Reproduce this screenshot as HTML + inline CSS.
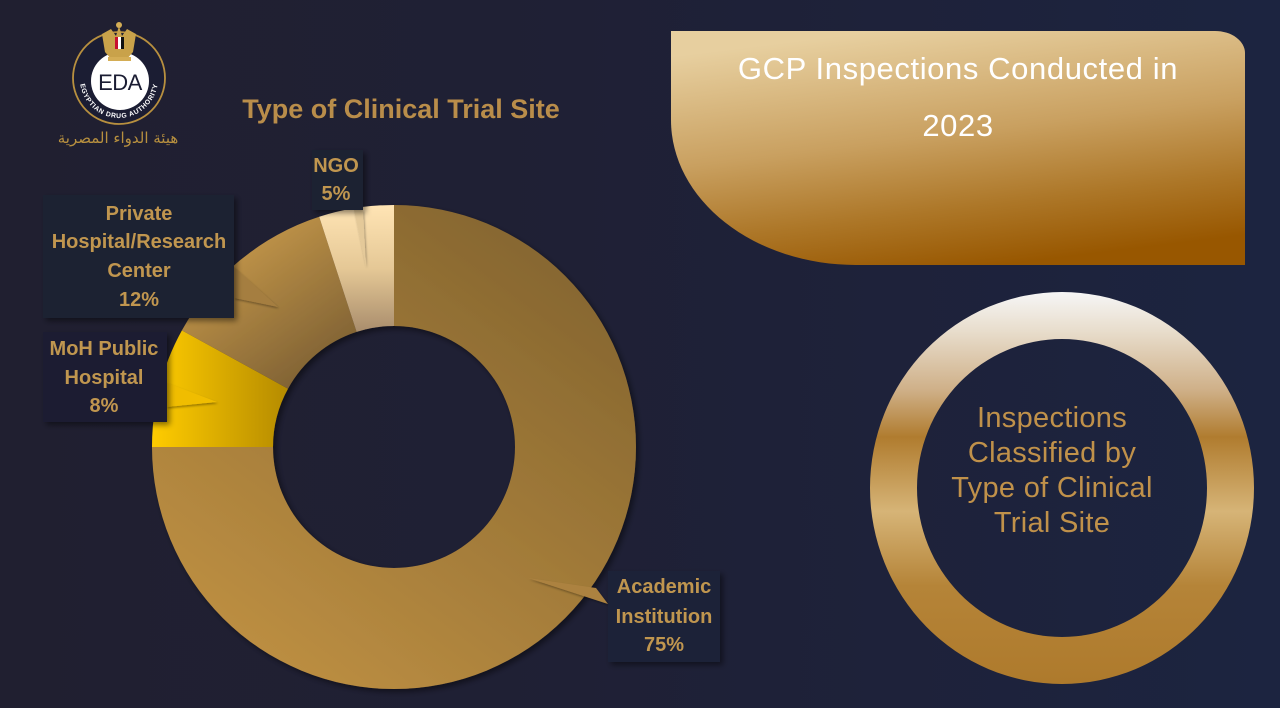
<!DOCTYPE html>
<html><head><meta charset="utf-8"><style>
html,body{margin:0;padding:0;background:#fff;width:1280px;height:720px;overflow:hidden}
svg{display:block}
</style></head><body>
<svg width="1280" height="708" viewBox="0 0 1280 708" xmlns="http://www.w3.org/2000/svg">
<defs>
<linearGradient id="bg" x1="0" y1="0" x2="1" y2="0">
<stop offset="0" stop-color="#201f30"/><stop offset="0.45" stop-color="#1f2035"/><stop offset="1" stop-color="#1c2440"/>
</linearGradient>
<linearGradient id="gBox" gradientUnits="userSpaceOnUse" x1="930" y1="25" x2="960" y2="270">
<stop offset="0" stop-color="#e7cf9f"/><stop offset="0.45" stop-color="#c9a060"/><stop offset="0.75" stop-color="#ad7728"/><stop offset="1" stop-color="#985700"/>
</linearGradient>
<linearGradient id="gRing" gradientUnits="userSpaceOnUse" x1="0" y1="292" x2="0" y2="684">
<stop offset="0" stop-color="#f6f6f6"/><stop offset="0.1" stop-color="#e8ddcc"/><stop offset="0.25" stop-color="#cfb088"/><stop offset="0.37" stop-color="#b07c2f"/><stop offset="0.56" stop-color="#d6b477"/><stop offset="0.75" stop-color="#b58438"/><stop offset="1" stop-color="#ae7a2c"/>
</linearGradient>
<linearGradient id="gAcad" gradientUnits="userSpaceOnUse" x1="560" y1="230" x2="250" y2="650">
<stop offset="0" stop-color="#84652f"/><stop offset="1" stop-color="#bc8e42"/>
</linearGradient>
<linearGradient id="gMoh" gradientUnits="userSpaceOnUse" x1="152" y1="0" x2="290" y2="0">
<stop offset="0" stop-color="#ffcc00"/><stop offset="1" stop-color="#b48a00"/>
</linearGradient>
<linearGradient id="gPriv" gradientUnits="userSpaceOnUse" x1="220" y1="250" x2="330" y2="400">
<stop offset="0" stop-color="#c39649"/><stop offset="1" stop-color="#735830"/>
</linearGradient>
<linearGradient id="gNgo" gradientUnits="userSpaceOnUse" x1="0" y1="205" x2="0" y2="332">
<stop offset="0" stop-color="#ffe4b4"/><stop offset="0.5" stop-color="#e5c896"/><stop offset="1" stop-color="#a98d6c"/>
</linearGradient>
<filter id="sh" x="-20%" y="-20%" width="140%" height="140%">
<feDropShadow dx="3" dy="3" stdDeviation="3" flood-color="#000" flood-opacity="0.45"/>
</filter>
<filter id="sh2" x="-30%" y="-30%" width="160%" height="160%">
<feDropShadow dx="1" dy="1.5" stdDeviation="1" flood-color="#000" flood-opacity="0.35"/>
</filter>
<path id="ringPath" d="M85.5,59 A39,39 0 1 0 152.5,59"/>
</defs>

<rect width="1280" height="708" fill="url(#bg)"/>

<!-- Logo -->
<g>
<circle cx="119" cy="78" r="46" fill="#1b1d33" stroke="#b8903f" stroke-width="1.8"/>
<circle cx="120" cy="81" r="29" fill="#ffffff"/>
<text font-family="Liberation Sans, sans-serif" font-size="6.8" fill="#ffffff" letter-spacing="0.6" font-weight="bold"><textPath href="#ringPath" startOffset="50%" text-anchor="middle">EGYPTIAN DRUG AUTHORITY</textPath></text>
<text x="120" y="90" text-anchor="middle" font-family="Liberation Sans, sans-serif" font-size="22" fill="#1b1d33" letter-spacing="-0.5">EDA</text>
<polygon points="102,34 111,29 116,36 119,26 122,36 127,29 136,34 133,52 126,60 112,60 105,52" fill="#c9a24a"/>
<circle cx="119" cy="25" r="3" fill="#d4ad55"/>
<rect x="115" y="37" width="3" height="12" fill="#c8102e"/>
<rect x="118" y="37" width="3" height="12" fill="#ffffff"/>
<rect x="121" y="37" width="3" height="12" fill="#111"/>
<rect x="108" y="57" width="23" height="4" fill="#d4ad55"/>
<text x="118" y="143" text-anchor="middle" font-family="DejaVu Sans, sans-serif" font-size="15" fill="#b8903f">هيئة الدواء المصرية</text>
</g>

<!-- Chart title -->
<text x="401" y="118" text-anchor="middle" font-family="Liberation Sans, sans-serif" font-weight="bold" font-size="27" fill="#b98d4a">Type of Clinical Trial Site</text>

<!-- Donut -->
<g filter="url(#sh)">
<path d="M394,205 A242,242 0 1 1 152,447 L273,447 A121,121 0 1 0 394,326 Z" fill="url(#gAcad)"/>
<path d="M152,447 A242,242 0 0 1 181.9,330.4 L288,388.7 A121,121 0 0 0 273,447 Z" fill="url(#gMoh)"/>
<path d="M181.9,330.4 A242,242 0 0 1 319.2,216.8 L356.6,331.9 A121,121 0 0 0 288,388.7 Z" fill="url(#gPriv)"/>
<path d="M319.2,216.8 A242,242 0 0 1 394,205 L394,326 A121,121 0 0 0 356.6,331.9 Z" fill="url(#gNgo)"/>
</g>

<!-- Callout pointers -->
<polygon points="354,210 366,267 363,210" fill="#e4c999" filter="url(#sh2)"/>
<polygon points="234,267 278,307 234,298" fill="#a57e40" filter="url(#sh2)"/>
<polygon points="167,383 217,402 167,407" fill="#f0bd00" filter="url(#sh2)"/>
<polygon points="528,578 596,588 608,604" fill="#ac8240" filter="url(#sh2)"/>

<!-- Label boxes -->
<g filter="url(#sh)">
<rect x="312" y="150" width="51" height="60" fill="#1f2033"/>
<rect x="43" y="195" width="191" height="123" fill="#1f2032"/>
<rect x="43" y="332" width="124" height="90" fill="#1f1f32"/>
<rect x="608" y="571" width="112" height="91" fill="#1e2137"/>
</g>
<g font-family="Liberation Sans, sans-serif" font-weight="bold" font-size="20" fill="#c0964f" text-anchor="middle">
<text x="336" y="172">NGO</text>
<text x="336" y="200">5%</text>
<text x="139" y="220">Private</text>
<text x="139" y="248">Hospital/Research</text>
<text x="139" y="277">Center</text>
<text x="139" y="306">12%</text>
<text x="104" y="355">MoH Public</text>
<text x="104" y="384">Hospital</text>
<text x="104" y="412">8%</text>
<text x="664" y="593">Academic</text>
<text x="664" y="623">Institution</text>
<text x="664" y="651">75%</text>
</g>

<!-- Title box -->
<path d="M671,31 L1215,31 A30,22 0 0 1 1245,53 L1245,265 L856,265 A185,145 0 0 1 671,120 Z" fill="url(#gBox)"/>
<g font-family="Liberation Sans, sans-serif" font-size="31" fill="#ffffff" text-anchor="middle" letter-spacing="0.6">
<text x="958" y="79">GCP Inspections Conducted in</text>
<text x="958" y="136">2023</text>
</g>

<!-- Gold ring -->
<path fill-rule="evenodd" fill="url(#gRing)" d="M870,488 A192,196 0 1 0 1254,488 A192,196 0 1 0 870,488 Z M917,488 A145,149 0 1 1 1207,488 A145,149 0 1 1 917,488 Z"/>
<g font-family="Liberation Sans, sans-serif" font-size="29" fill="#c0914a" text-anchor="middle" letter-spacing="0.3">
<text x="1052" y="427">Inspections</text>
<text x="1052" y="462">Classified by</text>
<text x="1052" y="497">Type of Clinical</text>
<text x="1052" y="532">Trial Site</text>
</g>
</svg>
</body></html>
